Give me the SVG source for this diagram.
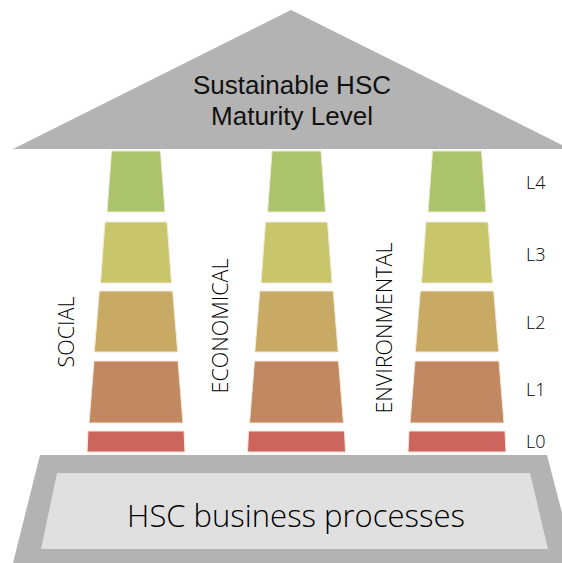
<svg xmlns="http://www.w3.org/2000/svg" width="562" height="563" viewBox="0 0 562 563">
<style>
.t{font-family:"Open Sans","Liberation Sans",sans-serif;fill:#000;font-weight:300}
.r{font-family:"Liberation Sans",Arial,sans-serif;fill:#111;font-size:26px;text-anchor:middle}
.lv{font-family:"Open Sans","Liberation Sans",sans-serif;fill:#000;font-size:18px;font-weight:300}
.v{font-family:"Open Sans","Liberation Sans",sans-serif;fill:#000;font-size:21.5px;font-weight:300;text-anchor:middle}
.l4{fill:#abc46b}.l3{fill:#c9c56b}.l2{fill:#c8aa64}.l1{fill:#c18862}.l0{fill:#cd655f}
.seg{stroke:#f4ead8;stroke-width:1}
</style>
<defs>
<g id="pillar">
<polygon class="seg l4" points="-24.5,151 24.5,151 29,212 -29,212"/>
<polygon class="seg l3" points="-31,222 31,222 35.5,283 -35.5,283"/>
<polygon class="seg l2" points="-36.7,291 36.7,291 41.7,352 -41.7,352"/>
<polygon class="seg l1" points="-42,361 42,361 47,423 -47,423"/>
<polygon class="seg l0" points="-48,431 48,431 49,452 -49,452"/>
</g>
</defs>
<g id="roof">
<polygon points="291,10 13,149 570,149" fill="#b3b3b3"/>
<text class="r" x="292" y="94">Sustainable HSC</text>
<text class="r" x="292" y="124.5">Maturity Level</text>
</g>
<g id="pillar-social">
<use href="#pillar" x="136"/>
<text class="v" transform="translate(74,332) rotate(-90)">SOCIAL</text>
</g>
<g id="pillar-economical">
<use href="#pillar" x="296.5"/>
<text class="v" transform="translate(228,326) rotate(-90)">ECONOMICAL</text>
</g>
<g id="pillar-environmental">
<use href="#pillar" x="457"/>
<text class="v" transform="translate(392,328) rotate(-90)">ENVIRONMENTAL</text>
</g>
<g id="levels">
<text class="lv" x="526" y="189">L4</text>
<text class="lv" x="526" y="261">L3</text>
<text class="lv" x="526" y="329">L2</text>
<text class="lv" x="526" y="396">L1</text>
<text class="lv" x="526" y="448">L0</text>
</g>
<g id="base">
<polygon points="40,455 547,455 575,563 13,563" fill="#b3b3b3"/>
<polygon points="57,473 530,473 548,549 41,549" fill="#e0e0e0"/>
<text class="t" x="296" y="527" font-size="31" text-anchor="middle">HSC business processes</text>
</g>
<g id="connectors"/>
</svg>
